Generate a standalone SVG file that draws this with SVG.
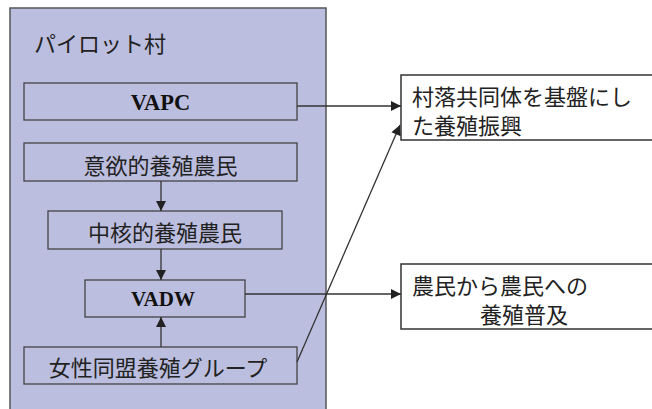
<svg xmlns="http://www.w3.org/2000/svg" width="652" height="409" viewBox="0 0 652 409">
<style>
.box{fill:none;stroke:#444;stroke-width:1.3}
.wbox{fill:#fff;stroke:#333;stroke-width:1.5}
.jp{font-family:"Noto Sans CJK JP","Liberation Serif",serif;font-size:22px;fill:#222}
.en{font-family:"Liberation Serif",serif;font-weight:bold;fill:#111}
.ln{fill:none;stroke:#333;stroke-width:1.3}
</style>
<defs>
<marker id="ah" viewBox="0 0 10 10" refX="10" refY="5" markerWidth="11" markerHeight="10" markerUnits="userSpaceOnUse" orient="auto">
<path d="M0,0 L10,5 L0,10 z" fill="#222"/>
</marker>
</defs>
<g id="pilot">
<rect x="10" y="8" width="316" height="410" fill="#BCBEDF" stroke="#555" stroke-width="1.5"/>
<text class="jp" x="34" y="52">パイロット村</text>
</g>
<g id="vapc">
<rect class="box" x="24" y="83" width="273" height="37"/>
<text class="en" x="160.5" y="110" font-size="22.5" text-anchor="middle">VAPC</text>
</g>
<g id="iyoku">
<rect class="box" x="24" y="143" width="273" height="38"/>
<text class="jp" x="160.5" y="173.5" text-anchor="middle">意欲的養殖農民</text>
</g>
<g id="chukaku">
<rect class="box" x="48" y="211" width="234" height="38"/>
<text class="jp" x="165" y="240.5" text-anchor="middle">中核的養殖農民</text>
</g>
<g id="vadw">
<rect class="box" x="85" y="280" width="160" height="37"/>
<text class="en" x="163" y="306" font-size="21" text-anchor="middle">VADW</text>
</g>
<g id="josei">
<rect class="box" x="24" y="347" width="273" height="37"/>
<text class="jp" x="158" y="376" text-anchor="middle">女性同盟養殖グループ</text>
</g>
<g id="sonraku">
<rect class="wbox" x="401" y="75" width="260" height="65"/>
<text class="jp" x="412" y="104.5">村落共同体を基盤にし</text>
<text class="jp" x="412" y="133.5">た養殖振興</text>
</g>
<g id="nomin">
<rect class="wbox" x="401" y="264" width="260" height="65"/>
<text class="jp" x="412" y="293.5">農民から農民への</text>
<text class="jp" x="480" y="322.5">養殖普及</text>
</g>
<g id="connectors">
<line class="ln" x1="297" y1="106" x2="401" y2="106" marker-end="url(#ah)"/>
<line class="ln" x1="161" y1="181" x2="161" y2="211" marker-end="url(#ah)"/>
<line class="ln" x1="161" y1="249" x2="161" y2="280" marker-end="url(#ah)"/>
<line class="ln" x1="161" y1="347" x2="161" y2="317" marker-end="url(#ah)"/>
<line class="ln" x1="245" y1="294" x2="401" y2="294" marker-end="url(#ah)"/>
<line class="ln" x1="297" y1="362" x2="400" y2="125" marker-end="url(#ah)"/>
</g>
</svg>
